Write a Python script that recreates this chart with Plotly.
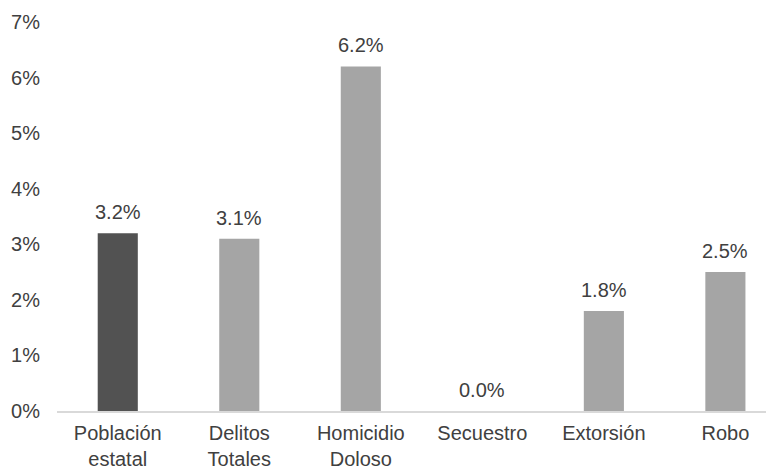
import plotly.graph_objects as go

# Data
categorias = ["Población<br>estatal", "Delitos<br>Totales", "Homicidio<br>Doloso",
              "Secuestro", "Extorsión", "Robo"]
valores = [0.032, 0.031, 0.062, 0.0, 0.018, 0.025]
etiquetas = ["3.2%", "3.1%", "6.2%", "0.0%", "1.8%", "2.5%"]
colores = ["#525252", "#a5a5a5", "#a5a5a5", "#a5a5a5", "#a5a5a5", "#a5a5a5"]

font_fam = "Liberation Sans, Arial, sans-serif"
txt_color = "#404040"

fig = go.Figure()
fig.add_trace(go.Bar(
    x=categorias, y=valores,
    marker=dict(color=colores, line_width=0),
    showlegend=False,
    hoverinfo="skip"))

for cat, val, lab in zip(categorias, valores, etiquetas):
    fig.add_annotation(
        x=cat, y=val, text=lab,
        showarrow=False,
        yanchor="bottom",
        yshift=8,
        font=dict(family=font_fam, size=20, color=txt_color))

# page has an 8px body margin, so the figure is a bit smaller than the window
fig.update_layout(
    width=766, height=460,
    margin=dict(l=49, r=0, t=14, b=57),
    paper_bgcolor="white",
    plot_bgcolor="white",
    bargap=0.67,
    font=dict(family=font_fam, size=20, color=txt_color),
    xaxis=dict(
        range=[-0.5, 5.4],
        automargin=False,
        showgrid=False,
        zeroline=False,
        showline=True,
        linecolor="#d9d9d9",
        linewidth=2,
        ticks="outside",
        ticklen=3,
        tickcolor="rgba(0,0,0,0)",
        tickfont=dict(size=20, color=txt_color)),
    yaxis=dict(
        range=[0, 0.07],
        dtick=0.01,
        tickformat=".0%",
        automargin=False,
        showgrid=False,
        zeroline=False,
        showline=False,
        ticks="",
        ticklabelstandoff=16,
        tickfont=dict(size=20, color=txt_color)))

fig.write_html("out.html")
